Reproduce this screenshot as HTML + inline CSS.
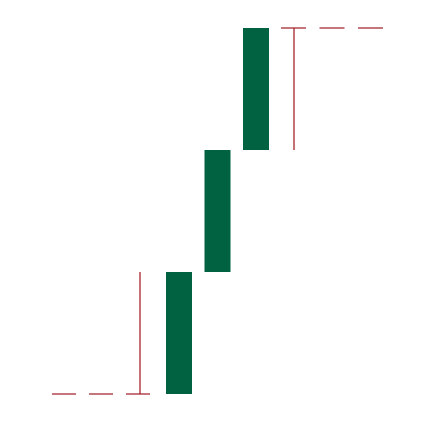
<!DOCTYPE html>
<html><head><meta charset="utf-8"><style>
html,body{margin:0;padding:0;background:#fff;width:434px;height:422px;overflow:hidden;font-family:"Liberation Sans",sans-serif}
</style></head><body>
<svg id="chart" width="434" height="422" xmlns="http://www.w3.org/2000/svg"></svg>
<script>
const categories = ["step-1","step-2","step-3"];
const values = [1,1,1];
const startValue = 0;
const ns="http://www.w3.org/2000/svg";
const svg=document.getElementById('chart');
const total=startValue+values.reduce((a,b)=>a+b,0);
function y(v){return 394-(v-startValue)*(366/(total-startValue));}
function x(i){return 179+i*38.5;}
const bw=26, red="#a3242b", green="#006241";
function mk(tag,attrs){const e=document.createElementNS(ns,tag);for(const k in attrs)e.setAttribute(k,attrs[k]);svg.appendChild(e);return e;}
let cum=startValue;
categories.forEach((c,i)=>{
  const y0=y(cum), y1=y(cum+values[i]);
  const r=mk('rect',{x:x(i)-bw/2,y:Math.min(y0,y1),width:bw,height:Math.abs(y0-y1),fill:green});
  
  
  cum+=values[i];
});
// start marker
const ys=y(startValue), ys1=y(startValue+values[0]);
const sl=mk('line',{x1:52,y1:ys,x2:152,y2:ys,stroke:red,'stroke-width':1.3,'stroke-dasharray':'24,13'});


const sv=mk('line',{x1:140,y1:ys,x2:140,y2:ys1,stroke:red,'stroke-width':1.3});


// end marker
const ye=y(total), ye0=y(total-values[values.length-1]);
const el=mk('line',{x1:281,y1:ye,x2:383,y2:ye,stroke:red,'stroke-width':1.3,'stroke-dasharray':'25,13.5'});


const ev=mk('line',{x1:294,y1:ye,x2:294,y2:ye0,stroke:red,'stroke-width':1.3});


</script>
</body></html>
